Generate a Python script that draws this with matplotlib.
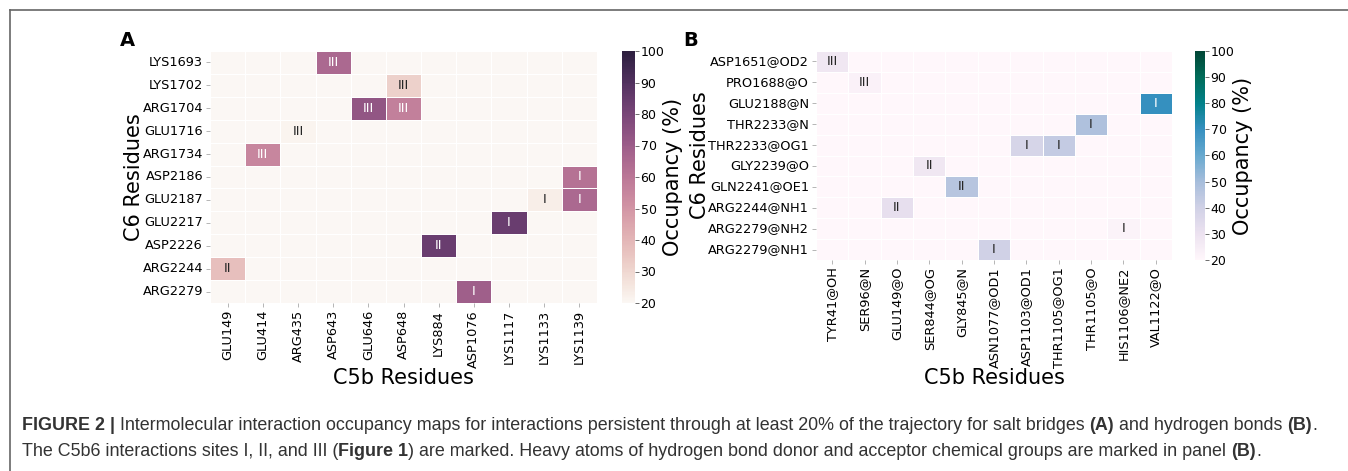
import matplotlib
matplotlib.use('Agg')
import matplotlib.pyplot as plt
import matplotlib.font_manager as fm
import numpy as np
import seaborn as sns

# ---- panel A: salt bridges ----
a_c6 = ['LYS1693', 'LYS1702', 'ARG1704', 'GLU1716', 'ARG1734', 'ASP2186',
        'GLU2187', 'GLU2217', 'ASP2226', 'ARG2244', 'ARG2279']
a_c5b = ['GLU149', 'GLU414', 'ARG435', 'ASP643', 'GLU646', 'ASP648',
         'LYS884', 'ASP1076', 'LYS1117', 'LYS1133', 'LYS1139']
a_row = ['LYS1693', 'LYS1702', 'ARG1704', 'ARG1704', 'GLU1716', 'ARG1734',
         'ASP2186', 'GLU2187', 'GLU2187', 'GLU2217', 'ASP2226', 'ARG2244', 'ARG2279']
a_col = ['ASP643', 'ASP648', 'GLU646', 'ASP648', 'ARG435', 'GLU414',
         'LYS1139', 'LYS1133', 'LYS1139', 'LYS1117', 'LYS884', 'GLU149', 'ASP1076']
a_occ = [65, 32, 73, 57, 21, 55, 62, 23, 65, 84, 84, 37, 69]
a_site = ['III', 'III', 'III', 'III', 'III', 'III', 'I', 'I', 'I', 'I', 'II', 'II', 'I']

# ---- panel B: hydrogen bonds ----
b_c6 = ['ASP1651@OD2', 'PRO1688@O', 'GLU2188@N', 'THR2233@N', 'THR2233@OG1',
        'GLY2239@O', 'GLN2241@OE1', 'ARG2244@NH1', 'ARG2279@NH2', 'ARG2279@NH1']
b_c5b = ['TYR41@OH', 'SER96@N', 'GLU149@O', 'SER844@OG', 'GLY845@N', 'ASN1077@OD1',
         'ASP1103@OD1', 'THR1105@OG1', 'THR1105@O', 'HIS1106@NE2', 'VAL1122@O']
b_row = ['ASP1651@OD2', 'PRO1688@O', 'GLU2188@N', 'THR2233@N', 'THR2233@OG1',
         'THR2233@OG1', 'GLY2239@O', 'GLN2241@OE1', 'ARG2244@NH1', 'ARG2279@NH2', 'ARG2279@NH1']
b_col = ['TYR41@OH', 'SER96@N', 'VAL1122@O', 'THR1105@O', 'ASP1103@OD1',
         'THR1105@OG1', 'SER844@OG', 'GLY845@N', 'GLU149@O', 'HIS1106@NE2', 'ASN1077@OD1']
b_occ = [28, 23, 70, 48, 38, 43, 28, 46, 32, 22, 40]
b_site = ['III', 'III', 'I', 'I', 'I', 'I', 'II', 'II', 'II', 'I', 'I']


def build(rows, cols, r, c, v, s):
    mat = np.zeros((len(rows), len(cols)))
    lab = np.full((len(rows), len(cols)), '', dtype=object)
    for ri, ci, vi, si in zip(r, c, v, s):
        mat[rows.index(ri), cols.index(ci)] = vi
        lab[rows.index(ri), cols.index(ci)] = si
    return mat, lab


fig = plt.figure(figsize=(13.48, 4.71), dpi=100)

cmap_a = sns.cubehelix_palette(start=0, rot=0.4, light=0.97, dark=0.15, as_cmap=True)
cmap_b = plt.get_cmap('PuBuGn')


def panel(rect, crect, rows, cols, mat, lab, cmap, letter, lpos):
    ax = fig.add_axes(rect)
    cax = fig.add_axes(crect)
    sns.heatmap(mat, ax=ax, cbar_ax=cax, cmap=cmap, vmin=20, vmax=100,
                annot=lab, fmt='', annot_kws={'size': 9.5},
                linewidths=0.5, linecolor='white',
                xticklabels=cols, yticklabels=rows)
    ax.set_xticklabels(cols, rotation=90, fontsize=9.3)
    ax.set_yticklabels(rows, rotation=0, fontsize=9.3)
    ax.tick_params(length=3, width=0.6, color='#aaaaaa', pad=2)
    ax.set_xlabel('C5b Residues', fontsize=15, labelpad=0)
    ax.set_ylabel('C6 Residues', fontsize=15, labelpad=-1)
    cax.set_yticks(np.arange(20, 101, 10))
    cax.tick_params(labelsize=9, length=3, width=0.6, color='#555555', pad=1)
    cax.set_ylabel('Occupancy (%)', fontsize=15, labelpad=-1)
    fig.text(lpos[0], lpos[1], letter, fontsize=14, fontweight='bold',
             ha='center', va='center')
    return ax


W, H = 1348.0, 471.0

mat_a, lab_a = build(a_c6, a_c5b, a_row, a_col, a_occ, a_site)
panel([210 / W, 1 - 303 / H, 387 / W, 252 / H],
      [622 / W, 1 - 303 / H, 13 / W, 252 / H],
      a_c6, a_c5b, mat_a, lab_a, cmap_a, 'A', (127 / W, 1 - 41 / H))

mat_b, lab_b = build(b_c6, b_c5b, b_row, b_col, b_occ, b_site)
panel([816 / W, 1 - 260 / H, 356 / W, 209 / H],
      [1195 / W, 1 - 260 / H, 10 / W, 209 / H],
      b_c6, b_c5b, mat_b, lab_b, cmap_b, 'B', (691 / W, 1 - 41 / H))

# frame around figure + caption
fig.add_artist(plt.Line2D([10 / W, 10 / W], [0, 1 - 10 / H], transform=fig.transFigure,
                          color='#666666', lw=1.2))
fig.add_artist(plt.Line2D([10 / W, 1], [1 - 10 / H, 1 - 10 / H], transform=fig.transFigure,
                          color='#666666', lw=1.2))

names = {f.name for f in fm.fontManager.ttflist}
cap_font = 'Liberation Sans Narrow' if 'Liberation Sans Narrow' in names else 'Liberation Sans'

line1 = [('FIGURE 2 |', 'bold'),
         (' Intermolecular interaction occupancy maps for interactions persistent through at least 20% '
          'of the trajectory for salt bridges ', 'normal'),
         ('(A)', 'bold'), (' and hydrogen bonds ', 'normal'), ('(B)', 'bold'), ('.', 'normal')]
line2 = [('The C5b6 interactions sites I, II, and III (', 'normal'), ('Figure 1', 'bold'),
         (') are marked. Heavy atoms of hydrogen bond donor and acceptor chemical groups are '
          'marked in panel ', 'normal'), ('(B)', 'bold'), ('.', 'normal')]

renderer = fig.canvas.get_renderer()


def seg_width(s, weight, size):
    t = fig.text(0, 0, 'x' + s + 'x', fontsize=size, fontweight=weight, family=cap_font)
    w1 = t.get_window_extent(renderer).width
    t.remove()
    t = fig.text(0, 0, 'xx', fontsize=size, fontweight=weight, family=cap_font)
    w0 = t.get_window_extent(renderer).width
    t.remove()
    return w1 - w0


def line_width(segs, size):
    return sum(seg_width(s, w, size) for s, w in segs)


size = 10.5 * (1309 / line_width(line1, 10.5))


def draw_line(segs, x0, y):
    x = x0
    for s, w in segs:
        fig.text(x / W, 1 - y / H, s, fontsize=size, fontweight=w, family=cap_font,
                 color='#333333', va='center', ha='left')
        x += seg_width(s, w, size)


draw_line(line1, 22, 425)
draw_line(line2, 22, 451)

fig.savefig('out.png', dpi=100)
